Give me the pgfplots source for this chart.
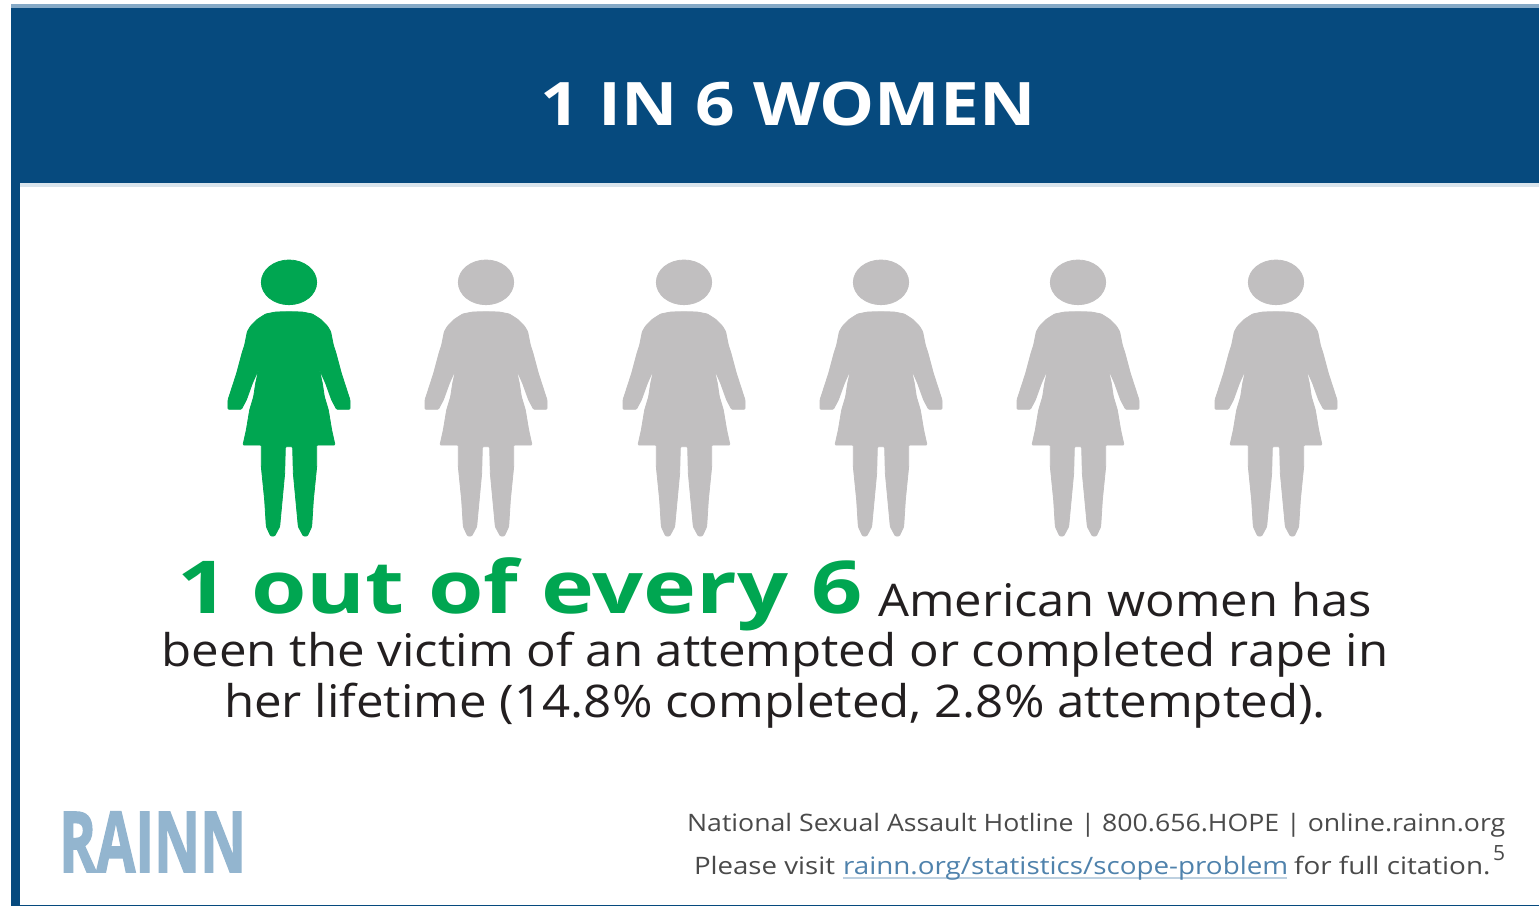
\documentclass[border=0pt]{standalone}
\usepackage{fontspec}
\setmainfont{Open Sans}
\newfontfamily\logofont[UprightFont=* Bold, FakeBold=2]{Open Sans}
\usepackage{pgfplots}
\pgfplotsset{compat=1.18}
\definecolor{rainnblue}{HTML}{064A7E}
\definecolor{rainnstripe}{HTML}{85A9C6}
\definecolor{rainnpale}{HTML}{D9E4EC}
\definecolor{rainnlogo}{HTML}{93B5CF}
\definecolor{rainnlink}{HTML}{4F82AC}
\definecolor{rainnrule}{HTML}{BDD0E0}
\definecolor{figgreen}{HTML}{00A651}
\definecolor{figgrey}{HTML}{C1BFC0}
\definecolor{bodyink}{HTML}{231F20}
\definecolor{footink}{HTML}{4A4A4A}

% Standing figure, one unit = 1/6 pt, origin at the middle of the silhouette
\pgfdeclareplotmark{woman}{%
  \begin{scope}[x=0.16667pt,y=-0.16667pt]
    \path[fill] (0,-323) ellipse [x radius=83, y radius=67];
    \path[fill,rounded corners=0.5pt]
      (0,-235) -- (40,-234) -- (70,-228) -- (95,-212) -- (115,-192) -- (125,-175)
      -- (133,-135) -- (141,-110) -- (157,-50)
      -- (183,30) -- (183,58) -- (143,58) -- (128,30) -- (110,-20) -- (90,-65)
      -- (100,-20) -- (106,20) -- (118,60) -- (128,120) -- (138,165)
      -- (83,165) -- (83,230) -- (73,330) -- (68,410) -- (55,438) -- (43,438) -- (28,410) -- (13,250) -- (11,170)
      -- (-11,170) -- (-13,250) -- (-28,410) -- (-43,438) -- (-55,438) -- (-68,410) -- (-73,330) -- (-83,230) -- (-83,165)
      -- (-138,165) -- (-128,120) -- (-118,60) -- (-106,20) -- (-100,-20) -- (-90,-65)
      -- (-110,-20) -- (-128,30) -- (-143,58) -- (-183,58) -- (-183,30) -- (-157,-50)
      -- (-141,-110) -- (-133,-135) -- (-125,-175) -- (-115,-192) -- (-95,-212) -- (-70,-228) -- (-40,-234) -- cycle;
  \end{scope}%
}

\pgfplotstableread{
x y
289 390
}\greenfigures
\pgfplotstableread{
x y
486 390
684 390
881 390
1078 390
1276 390
}\greyfigures

\begin{document}
\begin{tikzpicture}
\begin{axis}[
  at={(0,0)}, anchor=south west,
  scale only axis, width=769.5pt, height=453pt,
  xmin=0, xmax=1539, ymin=0, ymax=906, y dir=reverse,
  axis lines=none, clip=false,
  every node/.style={inner sep=0pt, outer sep=0pt},
]
% Page ground
\addplot[draw=none, fill=white, forget plot] coordinates {(0,0) (1539,0) (1539,906) (0,906)} -- cycle;
% Header band, its pale edges, and the frame
\addplot[draw=none, fill=rainnstripe, forget plot] coordinates {(11,4) (1539,4) (1539,8) (11,8)} -- cycle;
\addplot[draw=none, fill=rainnblue, forget plot] coordinates {(11,8) (1539,8) (1539,183) (11,183)} -- cycle;
\addplot[draw=none, fill=rainnpale, forget plot] coordinates {(20,183) (1539,183) (1539,187) (20,187)} -- cycle;
\addplot[draw=none, fill=rainnblue, forget plot] coordinates {(11,183) (20,183) (20,906) (11,906)} -- cycle;
\addplot[draw=none, fill=rainnblue, forget plot] coordinates {(20,905) (1539,905) (1539,906) (20,906)} -- cycle;

% One figure in six highlighted
\addplot[only marks, mark=woman, color=figgreen, mark options={fill=figgreen, draw=none}]
  table[x=x, y=y] {\greenfigures};
\addplot[only marks, mark=woman, color=figgrey, mark options={fill=figgrey, draw=none}]
  table[x=x, y=y] {\greyfigures};

% Title
\node[anchor=base, text=white, font={\fontsize{30}{36}\selectfont\bfseries}]
  at (axis cs:788,125) {\scalebox{1.156}[1]{1 IN 6 WOMEN}};

% Statement
\node[anchor=base west, text=figgreen, font={\fontsize{36.5}{40}\selectfont\bfseries}]
  at (axis cs:170,613) {\scalebox{1.228}[1]{1 out of every 6}};
\node[anchor=base west, text=bodyink, font={\fontsize{22.5}{26}\selectfont}]
  at (axis cs:871,616) {\scalebox{1.088}[1]{American women has}};
\node[anchor=base, text=bodyink, font={\fontsize{22.5}{26}\selectfont}]
  at (axis cs:775,666) {\scalebox{1.093}[1]{been the victim of an attempted or completed rape in}};
\node[anchor=base, text=bodyink, font={\fontsize{22.5}{26}\selectfont}]
  at (axis cs:775,717) {\scalebox{1.094}[1]{her lifetime (14.8\% completed, 2.8\% attempted).}};

% Logo
\node[anchor=base west, text=rainnlogo, font={\fontsize{42}{46}\logofont}]
  at (axis cs:52,872) {\scalebox{0.673}[1]{RAINN}};

% Footer
\node[anchor=base west, text=footink, font={\fontsize{12}{14}\selectfont}]
  at (axis cs:680,831) {\scalebox{1.111}[1]{National Sexual Assault Hotline | 800.656.HOPE | online.rainn.org}};
\node[anchor=base west, text=footink, font={\fontsize{12}{14}\selectfont}]
  at (axis cs:687,874) {\scalebox{1.15}[1]{Please visit}};
\addplot[draw=rainnrule, line width=1.2pt, forget plot] coordinates {(843,878) (1287,878)};
\node[anchor=base west, text=rainnlink, font={\fontsize{12}{14}\selectfont}]
  at (axis cs:836,874) {\scalebox{1.158}[1]{rainn.org/statistics/scope-problem}};
\node[anchor=base west, text=footink, font={\fontsize{12}{14}\selectfont}]
  at (axis cs:1287,874) {\scalebox{1.16}[1]{for full citation.}};
\node[anchor=base west, text=footink, font={\fontsize{10.5}{12}\selectfont}]
  at (axis cs:1486,860) {5};
\end{axis}
\end{tikzpicture}
\end{document}
